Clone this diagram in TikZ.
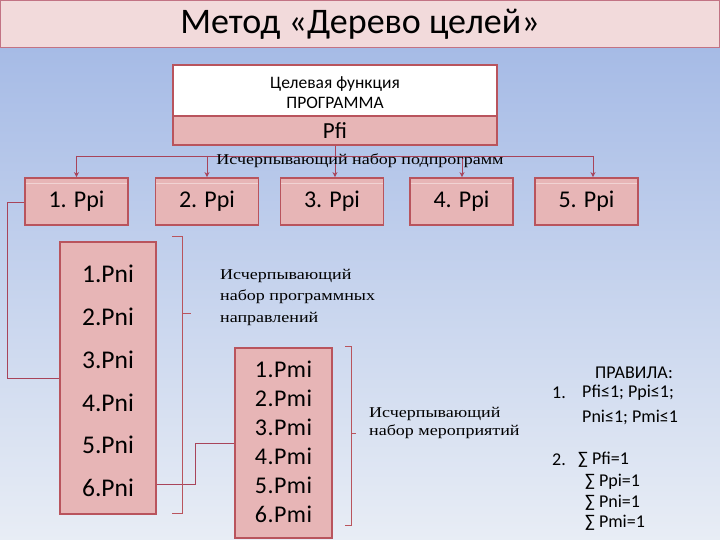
\documentclass[tikz,border=0pt]{standalone}
\usepackage{fontspec}
\setmainfont{Carlito}
\newfontfamily\seriffont[FakeStretch=1.2]{Liberation Serif}
\usetikzlibrary{arrows.meta}
\definecolor{bgtop}{HTML}{A6BBE6}
\definecolor{bgbot}{HTML}{E8EDF5}
\definecolor{titlefill}{HTML}{F2DADB}
\definecolor{titleline}{HTML}{C27384}
\definecolor{boxfill}{HTML}{E7B5B6}
\definecolor{boxline}{HTML}{B9545D}
\definecolor{conn}{HTML}{A8445A}
\tikzset{
  pinkbox/.style={draw=boxline, line width=1.8pt, fill=boxfill, inner sep=0pt, text=black},
  ppibox/.style={pinkbox, minimum width=103pt, minimum height=47pt, font=\fontsize{24}{26}\selectfont},
  link/.style={draw=conn, line width=0.8pt},
  arr/.style={link, -{Stealth[length=5pt,width=5pt]}},
  brack/.style={draw=boxline, line width=0.7pt},
  sertext/.style={font=\seriffont\fontsize{15}{21.5}\selectfont, align=left, inner sep=0pt, text=black},
  ruletext/.style={font=\fontsize{18}{20}\selectfont, inner sep=0pt, text=black},
}
\begin{document}
\begin{tikzpicture}[x=1pt,y=-1pt]
\useasboundingbox (0,0) rectangle (720,540);
\shade[top color=bgtop, bottom color=bgbot] (0,48) rectangle (720,540);
% title bar
\node[draw=titleline, line width=1pt, fill=titlefill, minimum width=719pt, minimum height=47pt, inner sep=0pt,
      font=\fontsize{36}{40}\selectfont] (title) at (360,24) {Метод «Дерево целей»};
% goal box
\node[draw=boxline, line width=1.8pt, fill=white, minimum width=324pt, minimum height=51pt, inner sep=0pt] (goal) at (335,90.5) {};
\node[align=center, inner sep=0pt, font=\fontsize{17.5}{20}\selectfont] (goaltxt) at (335,93) {Целевая функция\\ПРОГРАММА};
\node[pinkbox, minimum width=324pt, minimum height=29pt, font=\fontsize{23}{25}\selectfont] (pfi) at (335,130.5) {Pfi};
% Ppi boxes
\node[ppibox] (p1) at (76.5,201.5) {1. Ppi};
\node[ppibox] (p2) at (207,201.5) {2. Ppi};
\node[ppibox] (p3) at (332,201.5) {3. Ppi};
\node[ppibox] (p4) at (461.5,201.5) {4. Ppi};
\node[ppibox] (p5) at (586.5,201.5) {5. Ppi};
% highlight stripes
\foreach \n in {p1,p2,p3,p4,p5}{
  \draw[white!40!boxfill, line width=1pt] ([xshift=1.5pt,yshift=-6pt]\n.north west) -- ([xshift=-1.5pt,yshift=-6pt]\n.north east);
}
% connectors to Ppi
\coordinate (a1) at (76.5,156);
\coordinate (a2) at (207,156);
\coordinate (a4) at (462,156);
\coordinate (a5) at (593,156);
\draw[link] (a1) -- (a5);
\draw[arr] (pfi.south) -- (pfi.south |- p3.north);
\draw[arr] (a1) -- (a1 |- p1.north);
\draw[arr] (a2) -- (a2 |- p2.north);
\draw[arr] (a4) -- (a4 |- p4.north);
\draw[arr] (a5) -- (a5 |- p5.north);
\node[sertext, anchor=center] (subtxt) at (360,161) {Исчерпывающий набор подпрограмм};
% Pni box
\node[pinkbox, minimum width=96pt, minimum height=272pt] (pni) at (108,378) {};
\node[align=center, inner sep=0pt, font=\fontsize{25.5}{42.8}\selectfont] (pnitxt) at (108,381) {1.Pni\\2.Pni\\3.Pni\\4.Pni\\5.Pni\\6.Pni};
% Pmi box
\node[pinkbox, minimum width=97pt, minimum height=190pt] (pmi) at (283.5,443) {};
\node[align=center, inner sep=0pt, font=\fontsize{24}{29}\selectfont\addfontfeature{LetterSpace=2}] (pmitxt) at (283.5,441.5) {1.Pmi\\2.Pmi\\3.Pmi\\4.Pmi\\5.Pmi\\6.Pmi};
% connectors
\coordinate (c1) at (7,202);
\draw[link] (p1.west |- c1) -- (c1) |- (pni.west);
\coordinate (c2) at (195,484);
\draw[link] (pni.east |- c2) -- (c2) |- (pmi.west);
% bracket 1
\coordinate (b1t) at (182,236);
\coordinate (b1b) at (182,513);
\coordinate (b1m) at (182,313);
\draw[brack] ([xshift=-10pt]b1t) -- (b1t) -- (b1b) -- ([xshift=-10pt]b1b);
\draw[brack] (b1m) -- ([xshift=9pt]b1m);
\node[sertext, anchor=north west] (dirtxt) at (220,269) {Исчерпывающий\\набор программных\\направлений};
% bracket 2
\coordinate (b2t) at (351,346);
\coordinate (b2b) at (351,525);
\coordinate (b2m) at (351,433);
\draw[brack] ([xshift=-6pt]b2t) -- (b2t) -- (b2b) -- ([xshift=-6pt]b2b);
\draw[brack] (b2m) -- ([xshift=5pt]b2m);
\node[sertext, anchor=north west, font=\seriffont\fontsize{15}{18}\selectfont] (evtxt) at (369,407) {Исчерпывающий\\набор мероприятий};
% rules
\node[ruletext] (rhead) at (634,373) {ПРАВИЛА:};
\node[ruletext, anchor=west] (r1n) at (552,393) {1.};
\node[ruletext, anchor=west] (r1a) at (582,393) {Pfi≤1; Ppi≤1;};
\node[ruletext, anchor=west] (r1b) at (582,417) {Pni≤1; Pmi≤1};
\node[ruletext, anchor=west] (r2n) at (552,460) {2.};
\node[ruletext, anchor=west] (r2a) at (578,460) {∑ Pfi=1};
\node[ruletext, anchor=west] (r2b) at (585,482) {∑ Ppi=1};
\node[ruletext, anchor=west] (r2c) at (585,503) {∑ Pni=1};
\node[ruletext, anchor=west] (r2d) at (585,523) {∑ Pmi=1};
\end{tikzpicture}
\end{document}
